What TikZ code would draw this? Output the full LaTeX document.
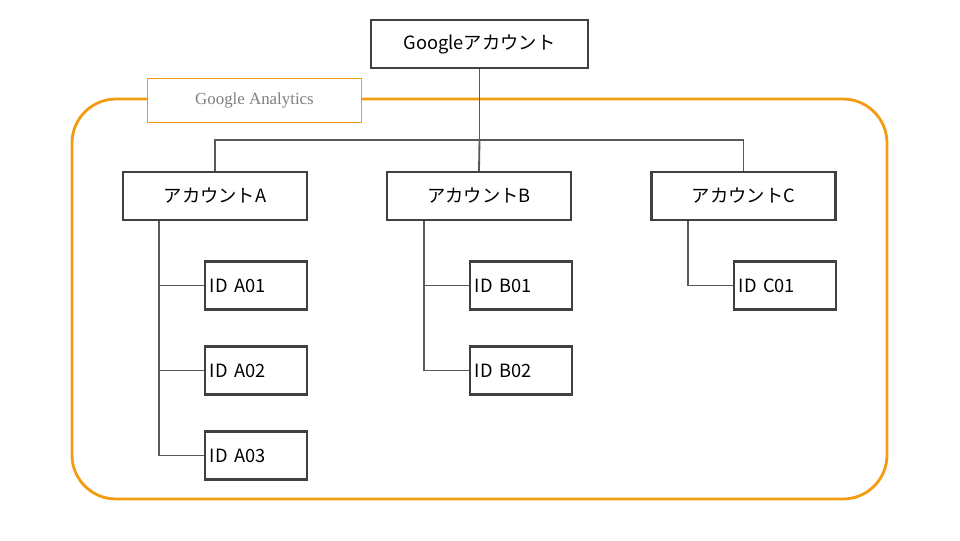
\documentclass[tikz,border=0pt]{standalone}
\usepackage{fontspec}
\setmainfont{Noto Sans CJK JP}
\newfontfamily\serifga{Liberation Serif}
\usetikzlibrary{positioning}
\definecolor{boxgray}{RGB}{64,64,64}
\definecolor{linegray}{RGB}{89,89,89}
\definecolor{gaorange}{RGB}{243,156,18}

\begin{document}
\begin{tikzpicture}[x=0.025cm,y=-0.025cm,font=\fontsize{13}{15}\selectfont]
  \tikzset{box/.style={draw=boxgray,line width=1.5pt,fill=white,minimum height=1.2cm,inner sep=0pt},
           acct/.style={box,minimum width=4.6cm},
           prop/.style={box,minimum width=2.55cm,text width=2.3cm,align=left},
           link/.style={draw=linegray,line width=1.3pt}}
  \useasboundingbox (0,0) rectangle (960,540);

  \draw[gaorange,line width=2pt,rounded corners=1.1cm] (72,99) rectangle (887,499);
  \node[draw=gaorange,fill=white,line width=0.6pt,minimum width=5.33cm,minimum height=1.1cm,
        text=gray,font=\serifga\fontsize{12}{14}\selectfont] (GA) at (254.5,100) {Google Analytics};

  \node[box,minimum width=5.43cm] (G) at (479.5,44) {Googleアカウント};
  \node[acct] (A) at (215,196) {アカウントA};
  \node[acct] (B) at (479,196) {アカウントB};
  \node[acct] (C) at (743.5,196) {アカウントC};

  \node[prop] (A1) at (256,285.5) {ID A01};
  \node[prop] (A2) at (256,370.5) {ID A02};
  \node[prop] (A3) at (256,455.5) {ID A03};
  \node[prop] (B1) at (521,285.5) {ID B01};
  \node[prop] (B2) at (521,370.5) {ID B02};
  \node[prop] (C1) at (785,285.5) {ID C01};

  \coordinate (bus) at (479.5,140);
  \path[link] (G.south) -- (bus);
  \path[link] (A.north) |- (bus) -| (C.north);
  \path[link] (bus) -- (B.north);

  \foreach \id in {A1,A2,A3} \path[link] (A.south -| 159,0) |- (\id.west);
  \foreach \id in {B1,B2} \path[link] (B.south -| 424,0) |- (\id.west);
  \path[link] (C.south -| 688,0) |- (C1.west);
\end{tikzpicture}
\end{document}
